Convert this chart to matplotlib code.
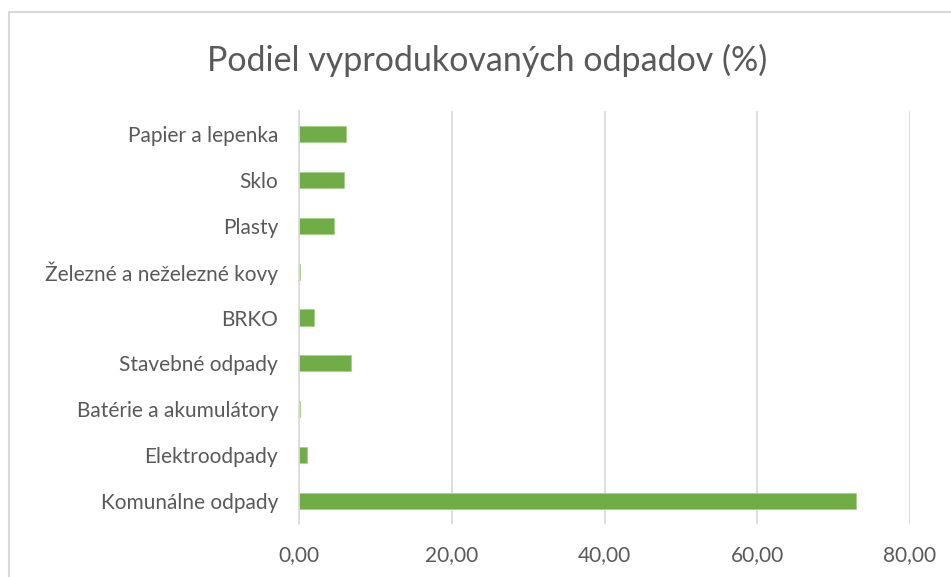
import matplotlib
matplotlib.use("Agg")
import matplotlib.pyplot as plt
from matplotlib.patches import Rectangle
from matplotlib.ticker import FuncFormatter, MultipleLocator

# --- data ---
categories = [
    "Komunálne odpady",
    "Elektroodpady",
    "Batérie a akumulátory",
    "Stavebné odpady",
    "BRKO",
    "Železné a neželezné kovy",
    "Plasty",
    "Sklo",
    "Papier a lepenka",
]
values = [72.9, 1.0, 0.08, 6.8, 2.0, 0.08, 4.6, 5.9, 6.1]

title = "Podiel vyprodukovaných odpadov (%)"

plt.rcParams['font.family'] = ['Lato', 'DejaVu Sans']

W, H = 951, 577
fig = plt.figure(figsize=(W / 100, H / 100), dpi=100)

# chart frame (only left/top edges visible, rest is cut off)
fig.patches.append(Rectangle((9 / W, 0 - 0.1), 1.2, (H - 12) / H + 0.1,
                             transform=fig.transFigure, fill=False,
                             edgecolor='#D9D9D9', linewidth=1.5))

ax = fig.add_axes([299 / W, (H - 524) / H, (910 - 299) / W, (524 - 111) / H])

ax.barh(range(len(categories)), values, height=0.35, color='#70AD47',
        edgecolor='#A9D18E', linewidth=0.6, zorder=3)

ax.set_xlim(0, 80)
ax.set_ylim(-0.5, len(categories) - 0.5)
ax.xaxis.set_major_locator(MultipleLocator(20))
ax.xaxis.set_major_formatter(FuncFormatter(lambda v, p: f"{v:.2f}".replace('.', ',')))
ax.set_yticks(range(len(categories)))
ax.set_yticklabels(categories)

ax.grid(axis='x', color='#D9D9D9', linewidth=1.2, zorder=0)
for s in ['top', 'right', 'bottom']:
    ax.spines[s].set_visible(False)
ax.spines['left'].set_color('#D9D9D9')
ax.spines['left'].set_linewidth(1.2)
ax.spines['left'].set_zorder(4)

ax.tick_params(axis='both', length=0, labelsize=15, colors='#595959')
ax.tick_params(axis='y', pad=15)
ax.tick_params(axis='x', pad=15)

fig.text(487 / W, 1 - 60 / H, title, ha='center', va='center',
         fontsize=24.5, color='#595959')

fig.savefig("out.png", dpi=100)
